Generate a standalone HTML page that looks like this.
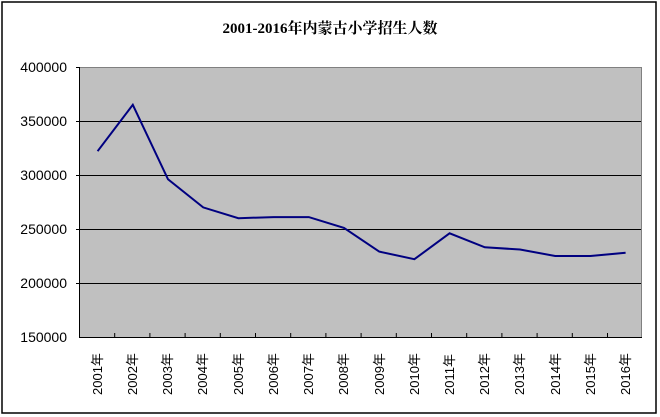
<!DOCTYPE html>
<html><head><meta charset="utf-8"><style>
html,body{margin:0;padding:0;background:#fff;width:660px;height:417px;overflow:hidden}
</style></head><body>
<svg width="660" height="417" xmlns="http://www.w3.org/2000/svg" font-family="'Liberation Sans','Noto Sans CJK SC',sans-serif">
<rect x="2" y="2" width="654" height="411" fill="#fff" stroke="#000" stroke-width="1.5"/>
<text x="330" y="33" text-anchor="middle" font-size="15" font-weight="bold" font-family="'Liberation Serif','Noto Serif CJK SC',serif">2001-2016年内蒙古小学招生人数</text>
<rect x="79.5" y="67.5" width="562" height="270" fill="#c0c0c0" stroke="#808080" stroke-width="1"/>
<g stroke="#000" stroke-width="1">
<line x1="80" y1="121.5" x2="641" y2="121.5"/>
<line x1="80" y1="175.5" x2="641" y2="175.5"/>
<line x1="80" y1="229.5" x2="641" y2="229.5"/>
<line x1="80" y1="283.5" x2="641" y2="283.5"/>
<line x1="79.5" y1="67" x2="79.5" y2="338"/>
<line x1="79" y1="337.5" x2="642" y2="337.5"/>
</g>
<g font-size="14" text-anchor="end" fill="#000">
<text x="67" y="72">400000</text><text x="67" y="126">350000</text><text x="67" y="180">300000</text>
<text x="67" y="234">250000</text><text x="67" y="288">200000</text><text x="67" y="342">150000</text>
</g>
<polyline fill="none" stroke="#000080" stroke-width="2" points="97.6,151.2 132.8,104.8 168,179.3 203.2,207.4 238.4,218.2 273.6,217.1 308.8,217.1 344,227.9 379.2,251.6 414.4,259.2 449.6,233.3 484.8,247.3 520,249.5 555.2,256 590.4,256 625.6,252.8"/>
<g font-size="13" fill="#000">
<text transform="translate(102,395) rotate(-90)">2001年</text>
<text transform="translate(137,395) rotate(-90)">2002年</text>
<text transform="translate(172,395) rotate(-90)">2003年</text>
<text transform="translate(207,395) rotate(-90)">2004年</text>
<text transform="translate(243,395) rotate(-90)">2005年</text>
<text transform="translate(278,395) rotate(-90)">2006年</text>
<text transform="translate(313,395) rotate(-90)">2007年</text>
<text transform="translate(348,395) rotate(-90)">2008年</text>
<text transform="translate(384,395) rotate(-90)">2009年</text>
<text transform="translate(419,395) rotate(-90)">2010年</text>
<text transform="translate(454,395) rotate(-90)">2011年</text>
<text transform="translate(489,395) rotate(-90)">2012年</text>
<text transform="translate(524,395) rotate(-90)">2013年</text>
<text transform="translate(560,395) rotate(-90)">2014年</text>
<text transform="translate(595,395) rotate(-90)">2015年</text>
<text transform="translate(630,395) rotate(-90)">2016年</text>
</g>
<g stroke="#000" stroke-width="1">
<line x1="114.7" y1="337" x2="114.7" y2="333"/><line x1="149.9" y1="337" x2="149.9" y2="333"/>
<line x1="185.1" y1="337" x2="185.1" y2="333"/><line x1="220.3" y1="337" x2="220.3" y2="333"/>
<line x1="255.5" y1="337" x2="255.5" y2="333"/><line x1="290.7" y1="337" x2="290.7" y2="333"/>
<line x1="325.9" y1="337" x2="325.9" y2="333"/><line x1="361.1" y1="337" x2="361.1" y2="333"/>
<line x1="396.3" y1="337" x2="396.3" y2="333"/><line x1="431.5" y1="337" x2="431.5" y2="333"/>
<line x1="466.7" y1="337" x2="466.7" y2="333"/><line x1="501.9" y1="337" x2="501.9" y2="333"/>
<line x1="537.1" y1="337" x2="537.1" y2="333"/><line x1="572.3" y1="337" x2="572.3" y2="333"/>
<line x1="607.5" y1="337" x2="607.5" y2="333"/>
<line x1="76" y1="67.5" x2="80" y2="67.5"/><line x1="76" y1="121.5" x2="80" y2="121.5"/>
<line x1="76" y1="175.5" x2="80" y2="175.5"/><line x1="76" y1="229.5" x2="80" y2="229.5"/>
<line x1="76" y1="283.5" x2="80" y2="283.5"/>
</g>
</svg>
</body></html>
